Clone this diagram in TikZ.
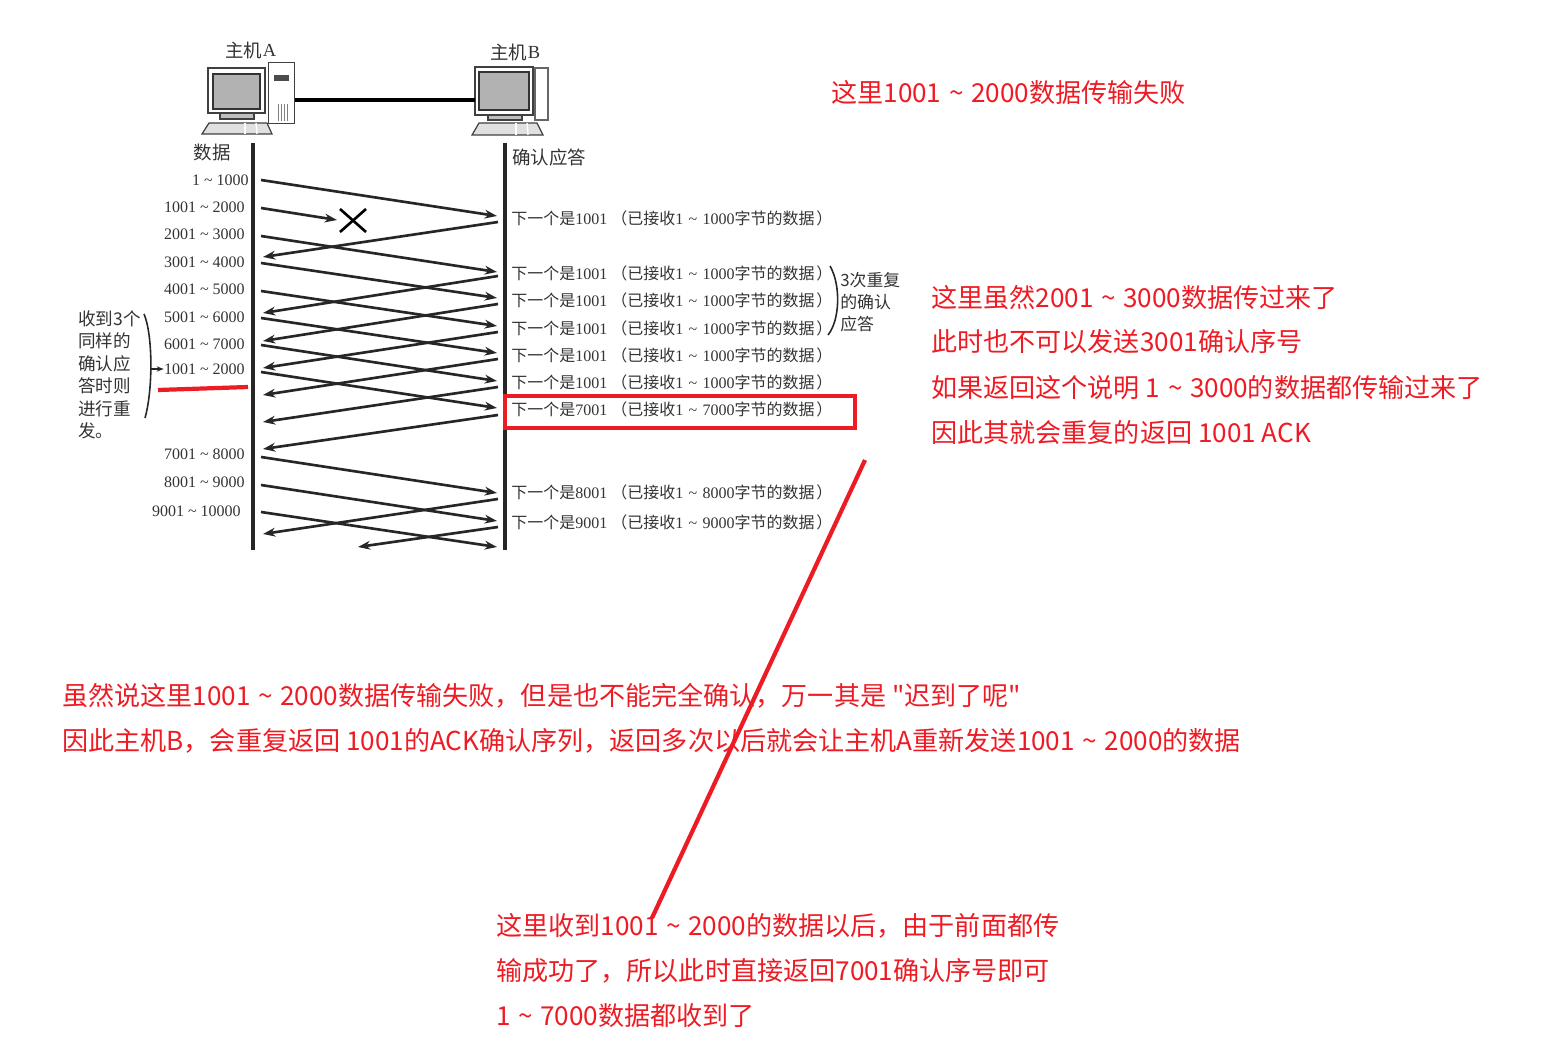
\documentclass[tikz,border=0pt]{standalone}
\usepackage{fontspec}
\usepackage{tikz}
\usetikzlibrary{
    arrows.meta,
    calc
}
\newfontfamily\cjk{Noto Sans CJK SC}
\setmainfont{Liberation Serif}
\definecolor{markred}{RGB}{237,28,36}
\newcommand{\tld}{\textasciitilde}
\newcommand{\rtld}{\kern1pt\textasciitilde\kern1pt}
\tikzset{
    msg/.style={line width=1.5pt, black!85, -{Stealth[length=7pt,width=5pt]}},
    lifeline/.style={line width=2pt, black!85},
    rednote/.style={anchor=west, inner sep=0pt, yshift=-0.6pt, text=markred, font=\cjk\fontsize{14.85}{18}\selectfont},
    scan/.style={inner sep=0pt, text=black!80, font=\fontsize{9.1}{12.8}\selectfont},
    scancjk/.style={scan, font=\cjk\fontsize{10.5}{13}\selectfont},
    markline/.style={draw=markred, line width=2.4pt},
    pc/.style={draw=black!75, line width=0.7pt, fill=white},
    screen/.style={draw=black!80, line width=0.8pt, fill=black!30}
}

\begin{document}
\begin{tikzpicture}[x=0.02cm,y=-0.02cm]

\useasboundingbox (0,0) rectangle (1545,1064);

% Host A
\draw[pc] (208,68) rectangle (265,113);
\draw[screen] (213,74) rectangle (260,109);
\draw[pc, fill=black!25] (220,113) rectangle (254,119);
\draw[pc, fill=black!12] (202,134) -- (209,123) -- (267,123) -- (272,134) -- cycle;
\draw[white, line width=0.8pt] (245,123) -- (245,134);
\draw[white, line width=0.8pt] (256,123) -- (257,134);
\node[pc, inner sep=0pt, minimum width=14.8pt, minimum height=34.7pt, anchor=north west] (towerA) at (268,62) {};
\fill[black!70] (274,75) rectangle (289,81);
\foreach \x in {278,281,284,287}
    \draw[black!50, line width=0.4pt] (\x,104) -- (\x,121);

% Host B
\draw[pc] (475,67) rectangle (533,115);
\draw[screen] (479,72) rectangle (529,110);
\draw[pc, fill=black!25] (488,115) rectangle (522,120);
\draw[pc, fill=black!12] (472,135) -- (479,123) -- (537,123) -- (543,135) -- cycle;
\draw[white, line width=0.8pt] (516,123) -- (516,135);
\draw[white, line width=0.8pt] (527,123) -- (528,135);
\draw[pc, draw=black!60] (535,68) rectangle (548,120);
\coordinate (wireB) at (475,100);

% Wire
\draw[line width=2.4pt] (towerA.east |- wireB) -- (wireB);

% Titles
\node[scancjk, anchor=west] (hostA) at (225,50) {主机};
\node[scan, font=\fontsize{10.5}{13}\selectfont, anchor=west] at (hostA.east) {A};
\node[scancjk, anchor=west] (hostB) at (490,52) {主机};
\node[scan, font=\fontsize{10.5}{13}\selectfont, anchor=west] at (hostB.east) {B};
\node[scancjk] (dataT) at (212,153) {数据};
\node[scancjk] (ackT) at (549,157) {确认应答};

% Lifelines
\coordinate (topA) at (253,143);
\coordinate (botA) at (253,550);
\coordinate (topB) at (505,143);
\coordinate (botB) at (505,550);
\draw[lifeline] (topA) -- (botA);
\draw[lifeline] (topB) -- (botB);

% Data labels
\foreach \i/\xr/\y/\txt in {1/249/180/1 \tld{} 1000, 2/245/207/1001 \tld{} 2000, 3/245/234/2001 \tld{} 3000,
    4/245/262/3001 \tld{} 4000, 5/245/289/4001 \tld{} 5000, 6/245/317/5001 \tld{} 6000,
    7/245/344/6001 \tld{} 7000, 8/245/369/1001 \tld{} 2000, 9/245/454/7001 \tld{} 8000,
    10/245/482/8001 \tld{} 9000, 11/241/511/9001 \tld{} 10000}
    \node[scan, anchor=east] (data\i) at (\xr,\y) {\txt};

% Ack labels
\foreach \i/\y/\nxt/\upto in {1/218/1001/1000, 2/273/1001/1000, 3/300/1001/1000, 4/328/1001/1000,
    5/355/1001/1000, 6/382/1001/1000, 7/409/7001/7000, 8/492/8001/8000, 9/522/9001/9000}
    \node[scan, anchor=west] (ack\i) at (511,\y)
        {{\cjk 下一个是}\nxt\kern2.3pt{\cjk （已接收}1\kern.8pt{} \tld{} \kern.8pt\upto{\cjk 字节的数据}\kern1pt{\cjk ）}};

% Data arrows
\foreach \i/\ya/\yb in {1/180/216, 3/236/272, 4/263/298, 5/291/326, 6/318/353, 7/345/381,
    8/372/408, 9/457/493, 10/485/521, 11/512/547} {
    \coordinate (ds\i) at (261,\ya);
    \coordinate (de\i) at (497,\yb);
    \draw[msg] (ds\i) -- (de\i);
}

% Lost packet
\coordinate (ds2) at (261,208);
\coordinate (lost) at (337,220);
\draw[msg] (ds2) -- (lost);
\draw[line width=1.5pt, black] (340,209) -- (366,232);
\draw[line width=1.5pt, black] (366,209) -- (340,232);

% Ack arrows
\foreach \i/\ya/\yb in {1/222/257, 2/276/313, 3/304/341, 4/332/368, 5/359/395,
    6/387/422, 7/415/449, 8/499/534} {
    \coordinate (as\i) at (498,\ya);
    \coordinate (ae\i) at (263,\yb);
    \draw[msg] (as\i) -- (ae\i);
}
\coordinate (as9) at (498,527);
\coordinate (ae9) at (358,547);
\draw[msg] (as9) -- (ae9);

% Braces
\draw[line width=0.9pt, black!85] (144,314) .. controls (153,335) and (153,390) .. (145,418);
\draw[line width=0.9pt, black!85] (830,266) .. controls (841,285) and (840,320) .. (828,335);
\draw[line width=0.8pt, black!85, -{Stealth[length=4pt,width=3pt]}] (151,369) -- (data8.west);

% Side notes
\node[scan, anchor=north west, align=left, font=\cjk\fontsize{10}{12.8}\selectfont] (retry) at (78,310)
    {收到3个\\同样的\\确认应\\答时则\\进行重\\发。};
\node[scan, anchor=north west, align=left, font=\cjk\fontsize{9.6}{12.6}\selectfont] (triple) at (840,272)
    {3次重复\\的确认\\应答};

% Red marks
\draw[markline] (158,390) -- (248,387);
\draw[markline] (505,396) rectangle (855,428);

% Red notes
\node[rednote] (failA) at (831,91) {这里1001 \rtld{} 2000数据传输失败};
\node[rednote] (lineA) at (931,296) {这里虽然2001 \rtld{} 3000数据传过来了};
\node[rednote] (lineB) at (931,341) {此时也不可以发送3001确认序号};
\node[rednote] (lineC) at (931,387) {如果返回这个说明 1 \rtld{} 3000的数据都传输过来了};
\node[rednote] (lineD) at (931,431) {因此其就会重复的返回 1001 ACK};
\node[rednote] (midA) at (62,695) {虽然说这里1001 \rtld{} 2000数据传输失败，但是也不能完全确认，万一其是 "迟到了呢"};
\node[rednote] (midB) at (62,740) {因此主机B，会重复返回 1001的ACK确认序列，返回多次以后就会让主机A重新发送1001 \rtld{} 2000的数据};
\node[rednote] (lowA) at (496,925) {这里收到1001 \rtld{} 2000的数据以后，由于前面都传};
\node[rednote] (lowB) at (496,970) {输成功了，所以此时直接返回7001确认序号即可};
\node[rednote] (lowC) at (496,1015) {1 \rtld{} 7000数据都收到了};

% Pointer line
\coordinate (ptrTop) at (865,460);
\coordinate (ptrEnd) at (652,918);
\draw[markline] (ptrTop) -- (ptrEnd);

\end{tikzpicture}
\end{document}
